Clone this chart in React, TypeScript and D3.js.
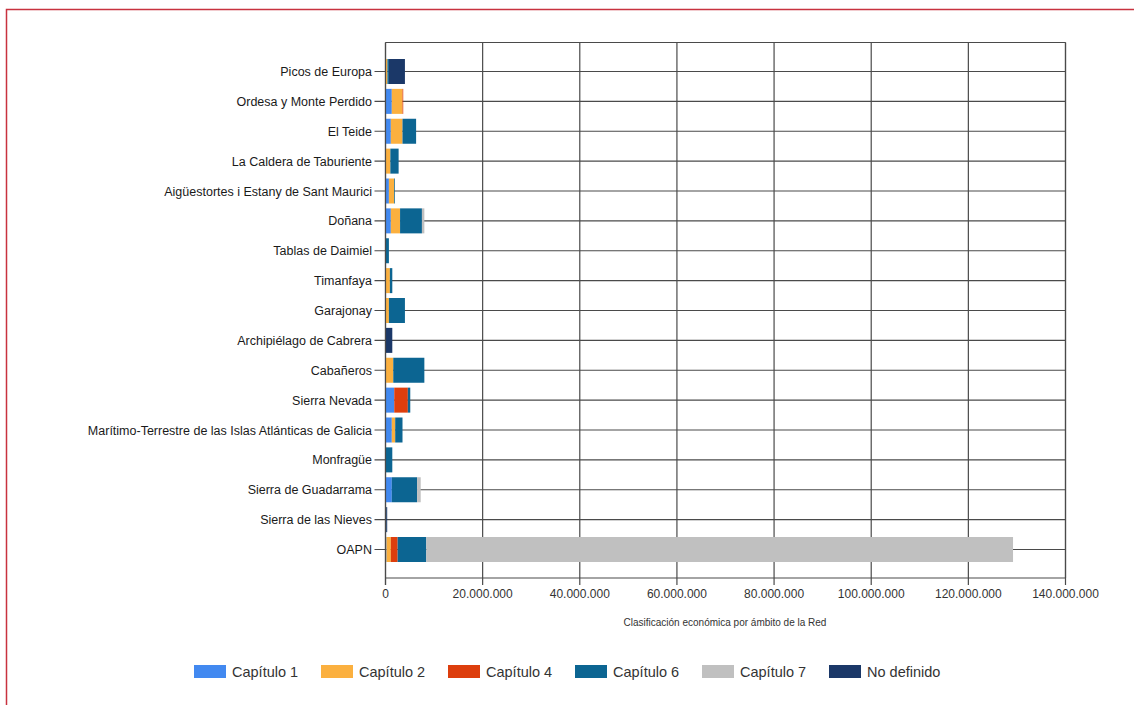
import React from "react";
import * as d3 from "d3";

const categories = [
  "Picos de Europa",
  "Ordesa y Monte Perdido",
  "El Teide",
  "La Caldera de Taburiente",
  "Aigüestortes i Estany de Sant Maurici",
  "Doñana",
  "Tablas de Daimiel",
  "Timanfaya",
  "Garajonay",
  "Archipiélago de Cabrera",
  "Cabañeros",
  "Sierra Nevada",
  "Marítimo-Terrestre de las Islas Atlánticas de Galicia",
  "Monfragüe",
  "Sierra de Guadarrama",
  "Sierra de las Nieves",
  "OAPN",
];

// values in millions of euros
const capitulo1 = [0, 1.3, 1.1, 0.1, 0.7, 1.1, 0, 0, 0, 0, 0, 1.8, 1.3, 0, 1.3, 0, 0.2];
const capitulo2 = [0.4, 2.2, 2.4, 0.9, 1.1, 1.9, 0, 0.9, 0.7, 0, 1.6, 0, 0.7, 0, 0, 0, 0.9];
const capitulo4 = [0, 0.15, 0, 0, 0, 0, 0, 0, 0, 0, 0, 2.8, 0, 0, 0, 0, 1.4];
const capitulo6 = [0.3, 0, 2.8, 1.7, 0.15, 4.5, 0.7, 0.5, 3.3, 0, 6.4, 0.5, 1.5, 1.4, 5.2, 0.15, 5.9];
const capitulo7 = [0, 0, 0, 0, 0, 0.5, 0, 0, 0, 0, 0, 0, 0, 0, 0.75, 0, 120.8];
const noDefinido = [3.3, 0, 0, 0, 0, 0, 0, 0, 0, 1.4, 0, 0, 0, 0, 0, 0.2, 0];

const seriesNames = ["Capítulo 1", "Capítulo 2", "Capítulo 4", "Capítulo 6", "Capítulo 7", "No definido"];
const seriesValues = [capitulo1, capitulo2, capitulo4, capitulo6, capitulo7, noDefinido];
const seriesColors = ["#4289f0", "#fbb03f", "#dd3e0d", "#0c6592", "#c0c0c0", "#1b3868"];
const xTicks = [0, 20000000, 40000000, 60000000, 80000000, 100000000, 120000000, 140000000];
const axisTitle = "Clasificación económica por ámbito de la Red";

const fmt = (v: number) => (v === 0 ? "0" : d3.format(",")(v).replace(/,/g, "."));

export default function App() {
  const W = 1134;
  const H = 705;
  const left = 385.5;
  const right = 1065.5;
  const top = 42.5;
  const bottom = 578;

  const x = d3.scaleLinear().domain([0, 140000000]).range([left, right]);
  const y = d3.scalePoint<string>().domain(categories).range([71.5, 549.5]);
  const barH = 25;

  const rows = categories.map((c, i) => {
    const r: any = { cat: c };
    seriesNames.forEach((s, k) => (r[s] = seriesValues[k][i] * 1e6));
    return r;
  });
  const stacked = d3.stack<any>().keys(seriesNames)(rows);

  const lineColor = "#4a4a4a";
  const font = "'Liberation Sans', Arial, sans-serif";

  return (
    <svg
      width={W}
      height={H}
      style={{ position: "absolute", left: 0, top: 0, background: "#fff" }}
      fontFamily={font}
    >
      <rect x={6.5} y={9.5} width={1140} height={720} fill="none" stroke="#c8323f" strokeWidth={1.5} />

      {/* vertical grid */}
      {xTicks.map((t) => (
        <line key={"vg" + t} x1={x(t)} x2={x(t)} y1={top} y2={bottom + 7} stroke={lineColor} strokeWidth={1.2} />
      ))}
      {/* plot frame top & right */}
      <line x1={left} x2={right} y1={top} y2={top} stroke={lineColor} strokeWidth={1.2} />
      <line x1={right} x2={right} y1={top} y2={bottom} stroke={lineColor} strokeWidth={1.2} />
      {/* bottom axis */}
      <line x1={left} x2={right} y1={bottom} y2={bottom} stroke={lineColor} strokeWidth={1.2} />

      {/* horizontal category lines */}
      {categories.map((c) => (
        <line key={"hg" + c} x1={left - 11} x2={right} y1={y(c)} y2={y(c)} stroke={lineColor} strokeWidth={1.2} />
      ))}

      {/* bars */}
      {stacked.map((s, k) => (
        <g key={s.key} fill={seriesColors[k]}>
          {s.map((d, i) =>
            d[1] - d[0] > 0 ? (
              <rect
                key={i}
                x={x(d[0])}
                y={(y(categories[i]) as number) - barH / 2}
                width={x(d[1]) - x(d[0])}
                height={barH}
              />
            ) : null
          )}
        </g>
      ))}

      {/* left axis line */}
      <line x1={left} x2={left} y1={top} y2={bottom + 7} stroke={lineColor} strokeWidth={1.2} />

      {/* category labels */}
      {categories.map((c) => (
        <text key={"lb" + c} x={372} y={(y(c) as number) + 4.5} textAnchor="end" fontSize={12.5} fill="#1a1a1a">
          {c}
        </text>
      ))}

      {/* x tick labels */}
      {xTicks.map((t) => (
        <text key={"xt" + t} x={x(t)} y={598} textAnchor="middle" fontSize={12} fill="#333">
          {fmt(t)}
        </text>
      ))}
      <text x={725} y={626} textAnchor="middle" fontSize={10} fill="#333">
        {axisTitle}
      </text>

      {/* legend */}
      {seriesNames.map((s, k) => (
        <g key={"lg" + s} transform={`translate(${194 + k * 127},0)`}>
          <rect x={0} y={665} width={32} height={13} fill={seriesColors[k]} />
          <text x={38} y={677} fontSize={14.5} fill="#333">
            {s}
          </text>
        </g>
      ))}
    </svg>
  );
}
